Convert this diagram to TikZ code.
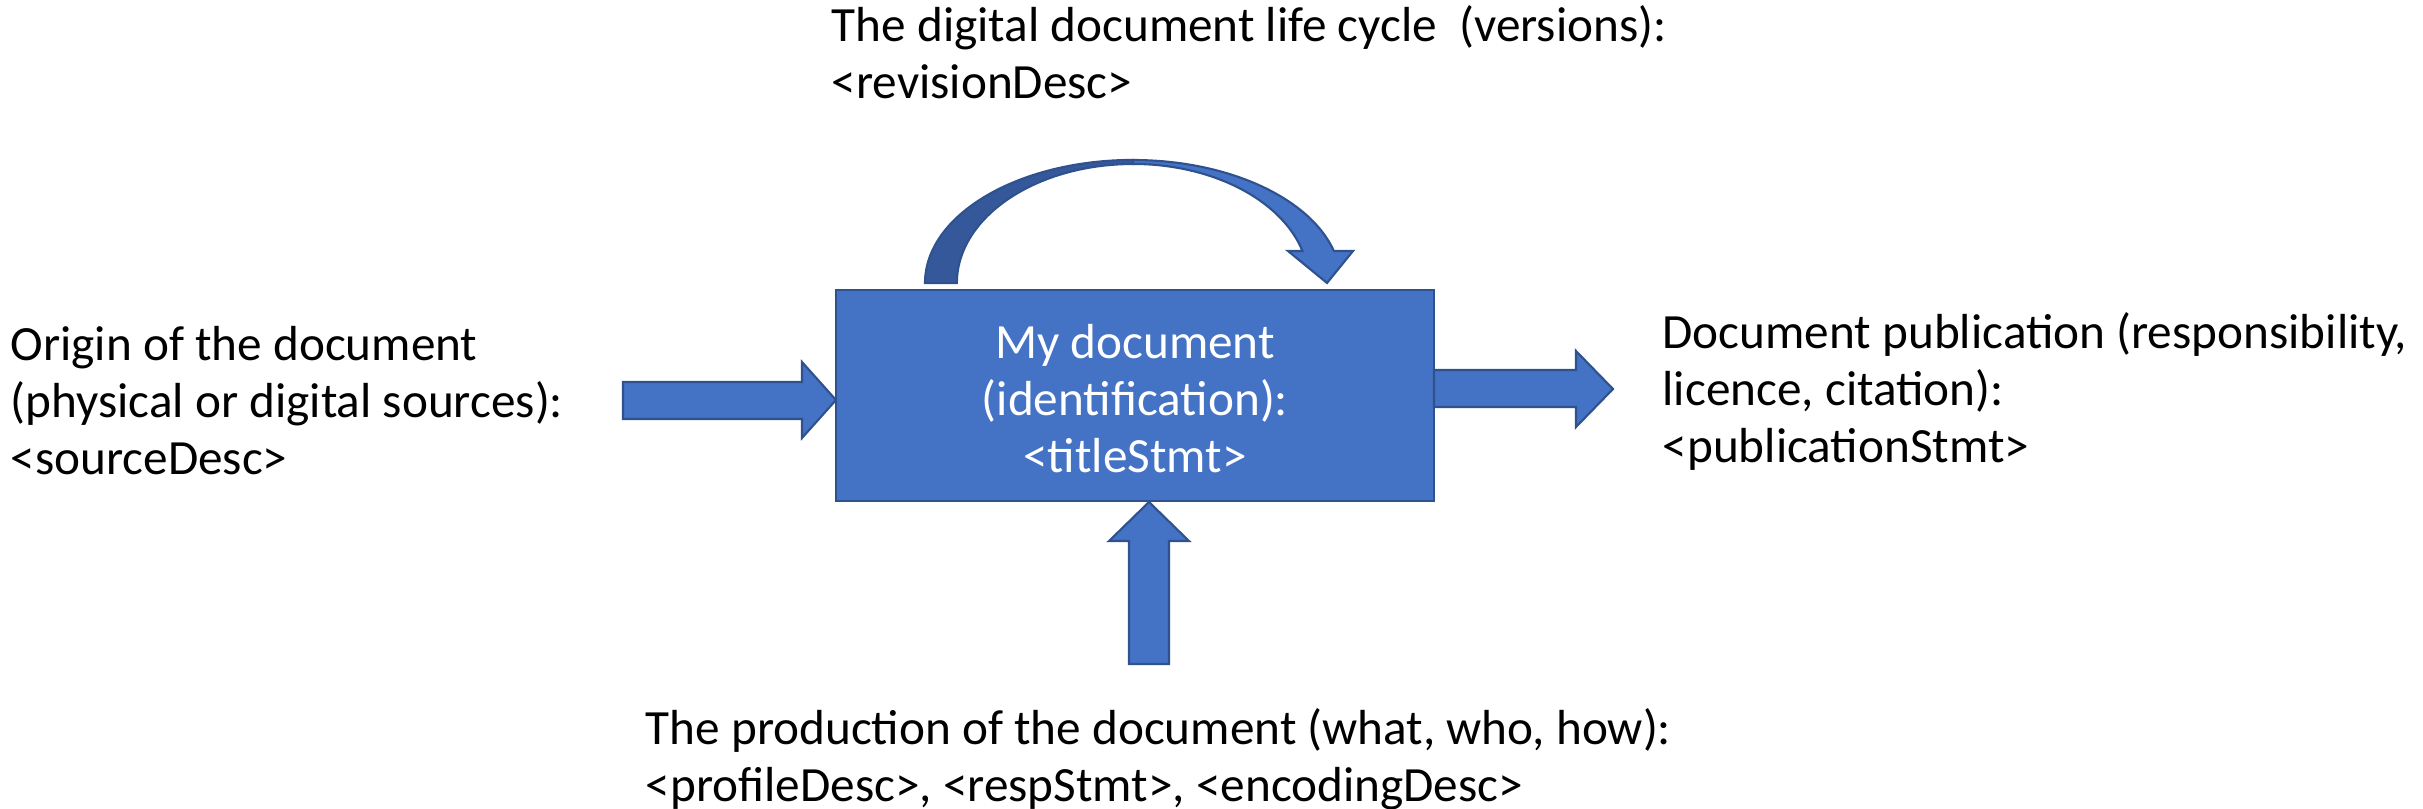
\documentclass[tikz,border=0pt]{standalone}
\usepackage{fontspec}
\setmainfont{Carlito}
\definecolor{ppblue}{HTML}{4472C4}
\definecolor{ppedge}{HTML}{2F528F}
\definecolor{ppdark}{HTML}{34589A}
\begin{document}
\begin{tikzpicture}[x=0.01cm,y=0.01cm,
  blockarrow/.style={fill=ppblue,draw=ppedge,line width=0.6pt,line join=miter},
  darkband/.style={fill=ppdark,draw=ppedge,line width=0.6pt,line join=miter},
  txt/.style={font=\fontsize{14}{16.2}\selectfont,align=left,anchor=base west,inner sep=0pt},
  boxtxt/.style={font=\fontsize{14}{16.2}\selectfont,align=center,anchor=base,inner sep=0pt,text=white},
]
\useasboundingbox (0,0) rectangle (2423,-809);

% central box
\node[draw=ppedge,fill=ppblue,line width=0.6pt,minimum width=5.98cm,minimum height=2.11cm,inner sep=0pt]
  (doc) at (1135,-395.5) {};
% multi-line nodes: base anchor = baseline of the last line
\node[boxtxt] (doctxt) at (1135,-472) {My document\\(identification):\\<titleStmt>};

% left arrow (sources)
\draw[blockarrow] (623,-382) -- (802,-382) -- (802,-362) -- (836,-400) -- (802,-438)
  -- (802,-419) -- (623,-419) -- cycle;
% right arrow (publication)
\draw[blockarrow] (1434,-370) -- (1576,-370) -- (1576,-351) -- (1613,-389) -- (1576,-427)
  -- (1576,-407) -- (1434,-407) -- cycle;
% bottom arrow (production)
\draw[blockarrow] (1129,-664) -- (1129,-541) -- (1109,-541) -- (1149,-502) -- (1189,-541)
  -- (1169,-541) -- (1169,-664) -- cycle;

% curved arrow (life cycle)
\draw[darkband] (925,-283) arc[start angle=180,end angle=90,x radius=2.08cm,y radius=1.23cm]
  -- (1133,-164) arc[start angle=90,end angle=180,x radius=1.76cm,y radius=1.19cm] -- cycle;
\draw[blockarrow] (1133,-160) arc[start angle=90,end angle=15.08,x radius=2.08cm,y radius=1.23cm]
  -- (1353,-251) -- (1327,-283) -- (1288,-251) -- (1302.5,-251)
  arc[start angle=15.6,end angle=90,x radius=1.76cm,y radius=1.19cm] -- cycle;

% labels
\node[txt] (top) at (831,-98) {The digital document life cycle \ (versions):\\<revisionDesc>};
\node[txt] (left) at (10,-474) {Origin of the document\\(physical or digital sources):\\<sourceDesc>};
\node[txt] (right) at (1662,-462) {Document publication (responsibility,\\licence, citation):\\<publicationStmt>};
\node[txt] (bottom) at (645,-801) {The production of the document (what, who, how):\\<profileDesc>, <respStmt>, <encodingDesc>};
\end{tikzpicture}
\end{document}
